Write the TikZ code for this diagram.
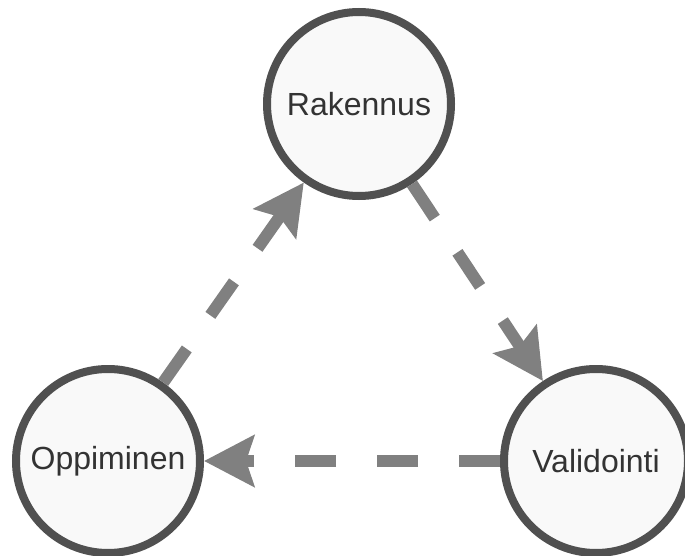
\documentclass[tikz,border=0pt]{standalone}
\usepackage{fontspec}
\setmainfont{Liberation Sans}
\usepackage{tikz}
\usetikzlibrary{positioning,shapes,arrows,arrows.meta}
\definecolor{ringgray}{HTML}{505050}
\definecolor{flowgray}{HTML}{808080}
\definecolor{phasefill}{HTML}{F9F9F9}
\definecolor{labelgray}{HTML}{333333}
\tikzstyle{phase} = [circle, minimum size=184pt, inner sep=0pt, line width=8pt, draw=ringgray, fill=phasefill, text=labelgray, font=\fontsize{32}{38}\selectfont]
\tikzstyle{flow} = [line width=12pt, draw=flowgray, dash pattern=on 41pt off 41pt, -{Stealth[length=50pt, width=51pt, inset=8pt, flowgray]}]

\begin{document}
\begin{tikzpicture}[x=1pt, y=-1pt, node distance=488pt]
			\useasboundingbox (0,0) rectangle (685,556);
			\node (rakennus) [phase] at (359,104) {Rakennus};
			\node (oppiminen) [phase] at (108,461) {Oppiminen};
			\node (validointi) [phase,right of=oppiminen] {Validointi};
			%-----------------------------------------------
			%-----------------------------------------------
			\draw [flow] (rakennus) -- (validointi);
			\draw [flow] (validointi) -- (oppiminen);
			\draw [flow] (oppiminen) -- (rakennus);
			\end{tikzpicture}
\end{document}
